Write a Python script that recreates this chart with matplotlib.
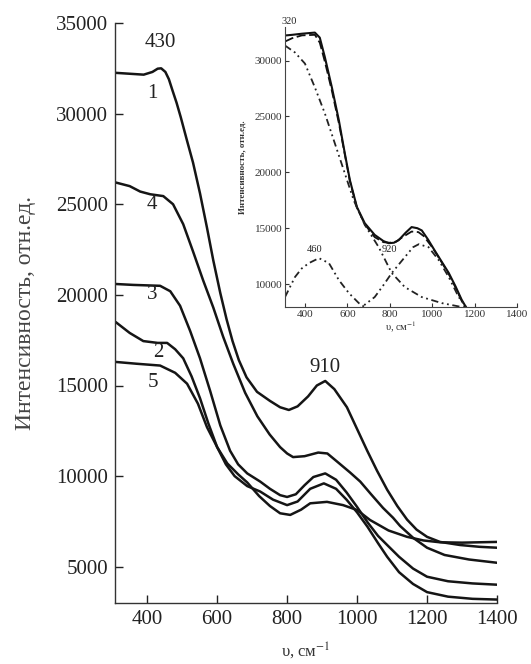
import matplotlib
matplotlib.use("Agg")
import matplotlib.pyplot as plt

plt.rcParams['font.family'] = ['Liberation Serif', 'DejaVu Serif']
plt.rcParams['mathtext.fontset'] = 'stix'

# ---------------- main chart data ----------------
c1_x = [310, 350, 390, 415, 430, 440, 452, 462, 472, 484, 496, 514, 531, 551, 571, 589, 609, 627, 644, 662, 684, 714, 751, 780, 805, 830, 860, 885, 909, 935, 971, 1000, 1029, 1057, 1086, 1115, 1143, 1170, 1200, 1237, 1294, 1350, 1400]
c1_y = [32250, 32200, 32150, 32300, 32480, 32500, 32300, 31900, 31300, 30600, 29800, 28500, 27300, 25600, 23700, 21900, 20100, 18650, 17450, 16400, 15450, 14650, 14150, 13800, 13650, 13850, 14400, 15000, 15250, 14800, 13800, 12600, 11400, 10300, 9250, 8350, 7600, 7050, 6650, 6370, 6200, 6100, 6050]

c4_x = [310, 350, 380, 409, 446, 474, 503, 531, 560, 589, 617, 646, 680, 715, 750, 780, 800, 817, 850, 889, 915, 943, 980, 1009, 1040, 1074, 1103, 1123, 1160, 1200, 1250, 1320, 1400]
c4_y = [26200, 26000, 25700, 25550, 25450, 25000, 23900, 22400, 20800, 19300, 17700, 16200, 14600, 13300, 12300, 11600, 11250, 11050, 11100, 11300, 11250, 10800, 10200, 9700, 9000, 8250, 7700, 7250, 6600, 6050, 5650, 5400, 5220]

c3_x = [310, 360, 437, 466, 494, 523, 551, 580, 609, 637, 660, 686, 723, 751, 780, 800, 825, 850, 875, 909, 940, 970, 1000, 1030, 1060, 1086, 1120, 1160, 1200, 1260, 1330, 1400]
c3_y = [20600, 20550, 20500, 20200, 19400, 18000, 16500, 14700, 12800, 11400, 10650, 10150, 9700, 9300, 8950, 8850, 9000, 9500, 9950, 10150, 9800, 9100, 8300, 7450, 6700, 6200, 5550, 4900, 4450, 4200, 4080, 4010]

c2_x = [310, 350, 389, 430, 457, 480, 503, 527, 551, 575, 600, 625, 650, 686, 723, 760, 800, 830, 866, 905, 940, 970, 1000, 1030, 1060, 1086, 1120, 1160, 1200, 1260, 1330, 1400]
c2_y = [18500, 17900, 17450, 17350, 17350, 17000, 16500, 15500, 14300, 12900, 11600, 10650, 10000, 9450, 9150, 8700, 8400, 8600, 9300, 9600, 9300, 8700, 8000, 7200, 6300, 5550, 4700, 4050, 3600, 3350, 3230, 3190]

c5_x = [310, 370, 437, 480, 514, 545, 571, 600, 629, 660, 686, 720, 751, 780, 809, 840, 866, 914, 960, 1000, 1037, 1090, 1143, 1190, 1237, 1300, 1400]
c5_y = [16300, 16200, 16100, 15700, 15100, 14000, 12700, 11600, 10700, 10100, 9650, 8900, 8350, 7950, 7860, 8150, 8500, 8580, 8400, 8130, 7580, 7000, 6650, 6450, 6350, 6330, 6370]

main_yticks = [5000, 10000, 15000, 20000, 25000, 30000, 35000]
main_xticks = [400, 600, 800, 1000, 1200, 1400]

# ---------------- inset data ----------------
in_tot_x = [306, 340, 386, 447, 470, 494, 527, 560, 588, 612, 645, 682, 729, 770, 795, 820, 842, 875, 903, 930, 951, 980, 1012, 1045, 1078, 1110, 1139, 1170, 1200]
in_tot_y = [32240, 32300, 32400, 32500, 32050, 30300, 27600, 24650, 21700, 19300, 16900, 15450, 14400, 13850, 13660, 13700, 13930, 14600, 15100, 15000, 14800, 14000, 13000, 12000, 11000, 9800, 8600, 7600, 6700]

in_fit_x = [306, 340, 386, 447, 470, 494, 527, 560, 588, 612, 645, 682, 729, 770, 800, 830, 860, 903, 935, 960, 1000, 1040, 1078, 1110, 1139, 1170, 1200]
in_fit_y = [31700, 32000, 32250, 32300, 31600, 29900, 27300, 24400, 21600, 19200, 16850, 15350, 14200, 13750, 13700, 13800, 14200, 14700, 14650, 14300, 13300, 12100, 10900, 9700, 8500, 7500, 6600]

in_b1_x = [306, 353, 400, 447, 494, 541, 588, 630, 682, 748, 809, 871, 951, 1045, 1139, 1250]
in_b1_y = [31340, 30720, 29730, 27590, 25270, 22590, 19910, 17500, 15300, 13300, 11000, 9730, 8840, 8300, 7950, 7700]

in_b2_x = [306, 353, 385, 419, 466, 513, 560, 607, 654, 700]
in_b2_y = [8840, 10630, 11400, 11880, 12320, 11880, 10360, 9200, 8300, 7700]

in_b3_x = [640, 668, 729, 770, 809, 871, 910, 937, 983, 1031, 1078, 1125, 1160, 1200]
in_b3_y = [7500, 7950, 8840, 9900, 10980, 12410, 13300, 13570, 13300, 12140, 10630, 8840, 7950, 7000]

in_yticks = [10000, 15000, 20000, 25000, 30000]
in_xticks = [400, 600, 800, 1000, 1200, 1400]

W, H = 531, 664
fig = plt.figure(figsize=(W / 100, H / 100), dpi=100)
fig.patch.set_facecolor('white')

ax = fig.add_axes([115 / W, 1 - 603 / H, (497 - 115) / W, (603 - 23) / H])
lw = 1.8
for xs, ys in [(c1_x, c1_y), (c4_x, c4_y), (c3_x, c3_y), (c2_x, c2_y), (c5_x, c5_y)]:
    ax.plot(xs, ys, color='#151515', lw=lw, solid_capstyle='round', solid_joinstyle='round')

ax.set_xlim(308, 1400)
ax.set_ylim(3000, 35000)
ax.set_xticks(main_xticks)
ax.set_yticks(main_yticks)
ax.tick_params(direction='in', length=6, width=1, labelsize=15, colors='#222222', pad=5)
for s in ['top', 'right']:
    ax.spines[s].set_visible(False)
for s in ['left', 'bottom']:
    ax.spines[s].set_linewidth(1.0)
    ax.spines[s].set_color('#333333')
ax.set_ylabel('Интенсивность, отн.ед.', fontsize=17, color='#444444', labelpad=14)
ax.set_xlabel(r'υ, см$^{-1}$', fontsize=12, color='#333333', labelpad=8)

fs = 15
ax.text(437, 33900, '430', fontsize=fs, ha='center', va='center', color='#222222')
ax.text(414, 31100, '1', fontsize=fs, ha='center', va='center', color='#222222')
ax.text(414, 25000, '4', fontsize=fs, ha='center', va='center', color='#222222')
ax.text(414, 20000, '3', fontsize=fs, ha='center', va='center', color='#222222')
ax.text(431, 16800, '2', fontsize=fs, ha='center', va='center', color='#222222')
ax.text(417, 15150, '5', fontsize=fs, ha='center', va='center', color='#222222')
ax.text(909, 16000, '910', fontsize=fs, ha='center', va='center', color='#222222')

# ---------------- inset ----------------
ins = fig.add_axes([285 / W, 1 - 307 / H, (517 - 285) / W, (307 - 27) / H])
ins.patch.set_alpha(0)
ins.plot(in_tot_x, in_tot_y, color='#111111', lw=1.5)
ins.plot(in_fit_x, in_fit_y, color='#111111', lw=1.3, ls=(0, (5, 2)))
dd = (0, (4, 2, 1, 2, 1, 2))
ins.plot(in_b1_x, in_b1_y, color='#222222', lw=1.3, ls=dd)
ins.plot(in_b2_x, in_b2_y, color='#222222', lw=1.3, ls=dd)
ins.plot(in_b3_x, in_b3_y, color='#222222', lw=1.3, ls=dd)
ins.set_xlim(306, 1400)
ins.set_ylim(7950, 33000)
ins.set_xticks(in_xticks)
ins.set_yticks(in_yticks)
ins.tick_params(direction='in', length=3, width=0.8, labelsize=8, colors='#333333', pad=2)
for s in ['top', 'right']:
    ins.spines[s].set_visible(False)
for s in ['left', 'bottom']:
    ins.spines[s].set_linewidth(0.8)
    ins.spines[s].set_color('#444444')
ins.set_ylabel('Интенсивность, отн.ед.', fontsize=6.5, color='#333333', labelpad=6, fontweight='bold')
ins.set_xlabel(r'υ, см$^{-1}$', fontsize=7.5, color='#333333', labelpad=1)
ins.text(325, 33500, '320', fontsize=7.5, ha='center', va='center', color='#222222', clip_on=False)
ins.text(447, 13100, '460', fontsize=7.5, ha='center', va='center', color='#222222')
ins.text(800, 13100, '920', fontsize=7.5, ha='center', va='center', color='#222222')

fig.savefig('out.png', dpi=100, facecolor='white')
